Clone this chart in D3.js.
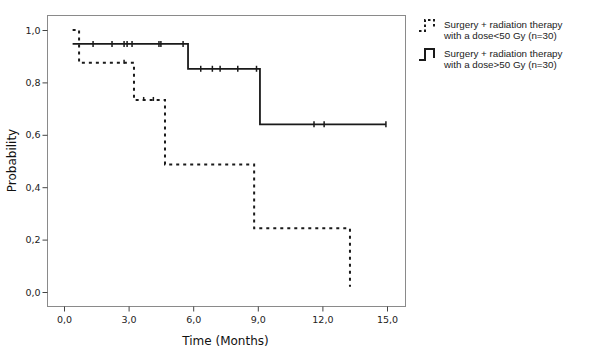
<!DOCTYPE html>
<html><head><meta charset="utf-8">
<script src="https://cdn.jsdelivr.net/npm/d3@7"></script>
<style>body{margin:0;background:#fff}svg{display:block}</style>
</head><body><svg id="c" width="600" height="356"></svg>
<script>
const xTicks = [0, 3, 6, 9, 12, 15];
const yTicks = [0, 0.2, 0.4, 0.6, 0.8, 1.0];
const seriesNames = ["Surgery + radiation therapy|with a dose<50 Gy (n=30)", "Surgery + radiation therapy|with a dose>50 Gy (n=30)"];
// group < 50 Gy (dashed)
const lowTimes = [0.4, 0.7, 3.25, 4.69, 8.83, 13.28];
const lowSurv = [1.0, 0.875, 0.733, 0.487, 0.243, 0.02];
const lowCensor = [2.79, 3.7, 4.15];
// group > 50 Gy (solid)
const highTimes = [0.4, 5.76, 9.1, 14.95];
const highSurv = [0.947, 0.852, 0.64, 0.64];
const highCensor = [1.35, 2.23, 2.79, 2.93, 3.16, 4.41, 4.5, 5.53, 6.35, 6.89, 7.25, 8.07, 8.94, 11.61, 12.08, 14.95];

const svg = d3.select("#c");
const x = d3.scaleLinear().domain([0, 15]).range([64, 387]);
const y = d3.scaleLinear().domain([0, 1]).range([292, 30]);
const box = {l: 47, r: 405, t: 15, b: 306};
const fmt = v => d3.format(".1f")(v).replace(".", ",");

svg.append("rect").attr("x", box.l + 0.5).attr("y", box.t + 0.5)
  .attr("width", box.r - box.l).attr("height", box.b - box.t)
  .attr("fill", "none").attr("stroke", "#8a8a8a").attr("stroke-width", 1);

const xa = svg.append("g").attr("transform", `translate(0,${box.b + 0.5})`)
  .call(d3.axisBottom(x).tickValues(xTicks).tickFormat(fmt).tickSize(5).tickPadding(5));
const ya = svg.append("g").attr("transform", `translate(${box.l + 0.5},0)`)
  .call(d3.axisLeft(y).tickValues(yTicks).tickFormat(fmt).tickSize(5).tickPadding(2));
[xa, ya].forEach(a => {
  a.select(".domain").remove();
  a.selectAll("line").attr("stroke", "#444");
  a.selectAll("text").attr("font-family", "DejaVu Sans").attr("font-size", 9.5).attr("fill", "#222");
});

svg.append("text").attr("x", x(7.5)).attr("y", 345).attr("text-anchor", "middle")
  .attr("font-family", "DejaVu Sans").attr("font-size", 12).attr("fill", "#111").text("Time (Months)");
svg.append("text").attr("transform", `translate(16,${(box.t + box.b) / 2}) rotate(-90)`)
  .attr("text-anchor", "middle").attr("font-family", "DejaVu Sans").attr("font-size", 12)
  .attr("fill", "#111").text("Probability");

const line = d3.line().x(d => x(d[0])).y(d => y(d[1])).curve(d3.curveStepAfter);
const lowPts = lowTimes.map((t, i) => [t, lowSurv[i]]);
const highPts = highTimes.map((t, i) => [t, highSurv[i]]);

function survAt(times, surv, t) {
  let s = surv[0];
  for (let i = 0; i < times.length; i++) if (times[i] <= t) s = surv[i];
  return s;
}

svg.append("path").attr("d", line(highPts)).attr("fill", "none")
  .attr("stroke", "#1a1a1a").attr("stroke-width", 1.8);
svg.append("path").attr("d", line(lowPts)).attr("fill", "none")
  .attr("stroke", "#1a1a1a").attr("stroke-width", 2).attr("stroke-dasharray", "3,4");

svg.selectAll(".ch").data(highCensor).join("line")
  .attr("x1", d => x(d)).attr("x2", d => x(d))
  .attr("y1", d => y(survAt(highTimes, highSurv, d)) - 3)
  .attr("y2", d => y(survAt(highTimes, highSurv, d)) + 3)
  .attr("stroke", "#1a1a1a").attr("stroke-width", 1.5);
svg.selectAll(".cl").data(lowCensor).join("line")
  .attr("x1", d => x(d)).attr("x2", d => x(d))
  .attr("y1", d => y(survAt(lowTimes, lowSurv, d)) - 3)
  .attr("y2", d => y(survAt(lowTimes, lowSurv, d)) + 1)
  .attr("stroke", "#1a1a1a").attr("stroke-width", 1.5);

// legend
const lg = svg.append("g");
seriesNames.forEach((name, i) => {
  const oy = 19 + i * 29;
  const p = `M419,${oy + 12} L425,${oy + 12} L425,${oy + 1} L434,${oy + 1} L434,${oy + 10}`;
  lg.append("path").attr("d", p).attr("fill", "none").attr("stroke", "#1a1a1a")
    .attr("stroke-width", 2).attr("stroke-dasharray", i === 0 ? "2.5,2.5" : null);
  name.split("|").forEach((s, j) => {
    lg.append("text").attr("x", 444).attr("y", oy + 9 + j * 10.5)
      .attr("font-family", "Liberation Sans").attr("font-size", 9.8).attr("fill", "#222").text(s);
  });
});
</script></body></html>
